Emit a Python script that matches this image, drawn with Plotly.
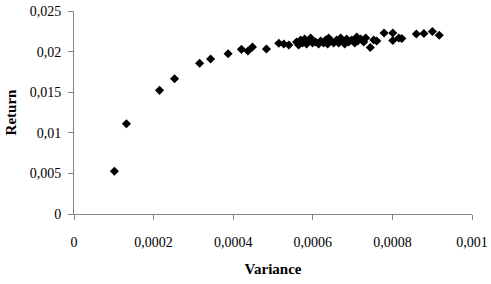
import plotly.graph_objects as go

variance = [
    0.0001015, 0.0001317, 0.0002149, 0.0002527, 0.0003156, 0.0003433, 0.0003872,
    0.0004207, 0.000437, 0.0004484, 0.0004836, 0.0005146, 0.0005272, 0.0005398,
    0.0005592, 0.0005643, 0.0005693, 0.0005743, 0.0005794, 0.0005844, 0.0005894,
    0.0005945, 0.0005995, 0.0006071, 0.0006146, 0.0006197, 0.0006272, 0.0006322,
    0.0006373, 0.0006398, 0.0006449, 0.0006524, 0.00066, 0.000665, 0.00067,
    0.0006751, 0.0006801, 0.0006852, 0.0006902, 0.0006978, 0.0007053, 0.0007104,
    0.0007129, 0.0007204, 0.000728, 0.000733, 0.0007444, 0.0007532, 0.0007607,
    0.0007791, 0.000801, 0.000801, 0.0008162, 0.0008237, 0.0008602, 0.0008791,
    0.0009005, 0.0009177,
]
returns = [
    0.00526, 0.01112, 0.01523, 0.01666, 0.01856, 0.01909, 0.01974,
    0.02028, 0.02007, 0.02057, 0.02032, 0.02102, 0.02094, 0.02081,
    0.02118, 0.02081, 0.02143, 0.02106, 0.02155, 0.02094, 0.0213,
    0.02167, 0.02106, 0.02118, 0.02094, 0.0213, 0.02106, 0.02143,
    0.02094, 0.02167, 0.0213, 0.02106, 0.02143, 0.02106, 0.02167,
    0.0213, 0.02094, 0.02155, 0.02118, 0.02143, 0.02106, 0.0218,
    0.0213, 0.02155, 0.02118, 0.02167, 0.0205, 0.02143, 0.0213,
    0.02229, 0.02229, 0.02137, 0.02167, 0.02161, 0.02217, 0.02223,
    0.02247, 0.02201,
]

fig = go.Figure(
    go.Scatter(
        x=variance, y=returns, mode="markers",
        marker=dict(symbol="diamond", size=7, color="black", line=dict(width=0)),
        hoverinfo="skip",
    )
)

axis_font = dict(family="Liberation Serif, Times New Roman, serif", size=14, color="black")
title_font = dict(family="Liberation Serif, Times New Roman, serif", size=15, color="black")

fig.update_layout(
    width=491, height=284,
    margin=dict(l=74, r=19, t=11, b=70),
    paper_bgcolor="white", plot_bgcolor="white",
    separators=", ",
    showlegend=False,
    font=axis_font,
)
fig.update_xaxes(
    range=[0, 0.001], dtick=0.0002, tick0=0,
    automargin=False,
    showgrid=False, zeroline=False,
    showline=True, linecolor="#868686", linewidth=1,
    ticks="outside", ticklen=5, tickcolor="#868686",
    ticklabelstandoff=10, tickfont=axis_font,
    title=dict(text="<b>Variance</b>", font=title_font, standoff=14),
)
fig.update_yaxes(
    range=[0, 0.025], dtick=0.005, tick0=0,
    automargin=False,
    showgrid=False, zeroline=False,
    showline=True, linecolor="#868686", linewidth=1,
    ticks="outside", ticklen=5, tickcolor="#868686",
    ticklabelstandoff=4, tickfont=axis_font,
    title=dict(text="<b>Return</b>", font=title_font, standoff=9),
)

# remove the browser's default 8px body margin so the figure fills the window
fig.write_html(
    "out.html",
    config={"displayModeBar": False, "staticPlot": True},
    post_script="document.body.style.margin='0';document.body.style.overflow='hidden';",
)
